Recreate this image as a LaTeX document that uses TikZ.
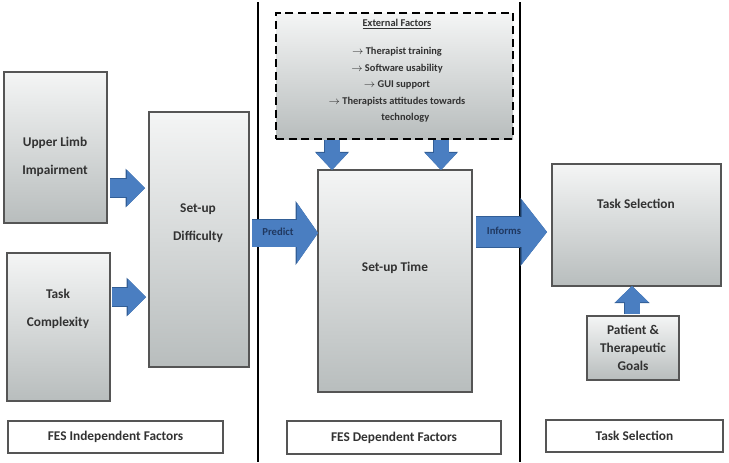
\documentclass[tikz,border=0pt]{standalone}
\usepackage{fontspec}
\setmainfont{Carlito}
\usetikzlibrary{arrows.meta, calc}

\definecolor{arrowblue}{RGB}{74, 126, 193}
\definecolor{arrowedge}{RGB}{50, 94, 150}
\definecolor{boxtop}{RGB}{244, 245, 245}
\definecolor{boxbot}{RGB}{184, 189, 189}
\definecolor{boxedge}{RGB}{85, 85, 85}
\definecolor{labeltext}{RGB}{50, 50, 50}
\definecolor{arrowtext}{RGB}{32, 56, 96}

\tikzset{
  factorbox/.style={draw=boxedge, line width=0.8pt, top color=boxtop, bottom color=boxbot, inner sep=0pt, outer sep=0pt},
  headerbox/.style={draw=boxedge, line width=1pt, fill=white, inner sep=0pt, outer sep=0pt, font=\bfseries\fontsize{10}{12}\selectfont, text=labeltext},
  boxtext/.style={font=\bfseries\fontsize{10}{21}\selectfont, text=labeltext, align=center},
  arrowlabel/.style={font=\bfseries\fontsize{8}{10}\selectfont, text=arrowtext},
  sepline/.style={black, line width=2.2pt},
  flowarrow/.style n args={3}{arrowblue, line width=#1,
    -{Triangle[width=#2, length=#3, line width=0pt]},
    preaction={draw=arrowedge, line width=#1+1.2pt, -{Triangle[width=#2, length=#3, line width=0pt, scale=1.07]}}},
}

\begin{document}
\begin{tikzpicture}[x=0.75pt, y=-0.75pt]
  \useasboundingbox (0,0) rectangle (729,462);

  % section dividers
  \draw[sepline] (258,2) -- (258,462);
  \draw[sepline] (520,2) -- (520,462);

  % FES independent factors
  \node[factorbox, minimum width=77.25pt, minimum height=113.25pt] (limb) at (55.5,147.5) {};
  \node[boxtext] (limbtext) at (55,157) {Upper Limb\\Impairment};
  \node[factorbox, minimum width=77.25pt, minimum height=111pt] (task) at (58.5,327) {};
  \node[boxtext] (tasktext) at (58,308.5) {Task\\Complexity};
  \node[factorbox, minimum width=75pt, minimum height=191.25pt] (diff) at (199,239.5) {};
  \node[boxtext] (difftext) at (198,223.5) {Set-up\\Difficulty};

  % FES dependent factors
  \node[factorbox, draw=black, line width=1.5pt, dash pattern=on 6pt off 3.5pt, minimum width=177.75pt, minimum height=94.5pt] (ext) at (394.5,76) {};
  \node[font=\bfseries\fontsize{7.8}{12.4}\selectfont, text=labeltext, align=center] (exttext) at (397,71) {
    \underline{External Factors}\\[8.6pt]
    $\rightarrow$ Therapist training\\
    $\rightarrow$ Software usability\\
    $\rightarrow$ GUI support\\
    $\rightarrow$ Therapists attitudes towards\\
    \hspace*{1.6em}technology
  };
  \node[factorbox, minimum width=115.5pt, minimum height=166.5pt] (time) at (395,281) {};
  \node[boxtext] (timetext) at (395,268) {Set-up Time};

  % task selection
  \node[factorbox, minimum width=126.75pt, minimum height=91.5pt] (tsel) at (636.5,225) {};
  \node[boxtext] (tseltext) at (636,204) {Task Selection};
  \node[factorbox, minimum width=69pt, minimum height=48pt, font=\bfseries\fontsize{10}{13.5}\selectfont, text=labeltext, align=center] (goals) at (633,348) {Patient \&\\Therapeutic\\Goals};

  % section headers
  \node[headerbox, minimum width=161.25pt, minimum height=24pt] (indep) at (115.5,437) {FES Independent Factors};
  \node[headerbox, minimum width=160.5pt, minimum height=24.75pt] (dep) at (394,437.5) {FES Dependent Factors};
  \node[headerbox, minimum width=132.75pt, minimum height=24pt] (tselhead) at (634.5,436) {Task Selection};

  % block arrows
  \coordinate (a1) at (110,188);
  \coordinate (a2) at (112,297);
  \coordinate (pr) at (252,233);
  \coordinate (inf) at (476,232);
  \coordinate (d1) at (332,140);
  \coordinate (d2) at (441,140);
  \coordinate (u1) at (632,314);

  \draw[flowarrow={13.5pt}{27pt}{13.5pt}, shorten >=3pt] (a1) -- (a1 -| diff.west);
  \draw[flowarrow={13.5pt}{27pt}{13.5pt}, shorten >=2.25pt] (a2) -- (a2 -| diff.west);
  \draw[flowarrow={20.25pt}{45pt}{15.75pt}] (pr) -- (pr -| time.west);
  \draw[flowarrow={22.5pt}{48pt}{18.75pt}, shorten >=3.75pt] (inf) -- (inf -| tsel.west);
  \draw[flowarrow={11.25pt}{24pt}{12.75pt}] (d1) -- (d1 |- time.north);
  \draw[flowarrow={11.25pt}{24pt}{12.75pt}] (d2) -- (d2 |- time.north);
  \draw[flowarrow={11.25pt}{24.75pt}{12pt}] (u1) -- (u1 |- tsel.south);

  \node[arrowlabel] (prlabel) at (278,232) {Predict};
  \node[arrowlabel] (inflabel) at (504,231) {Informs};
\end{tikzpicture}
\end{document}
